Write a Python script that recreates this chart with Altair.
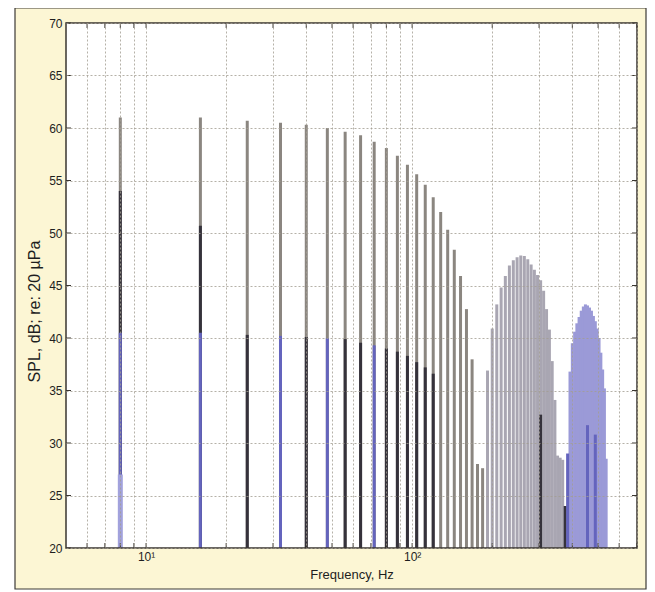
import altair as alt
import pandas as pd

# ---- data (harmonics of 8 Hz) ----
gray_freq = [8, 16, 24, 32, 40, 48, 56, 64, 72, 80, 88, 96, 104, 112, 120, 128,
             136, 144, 152, 160, 168, 176, 184]
gray_level = [61.0, 61.0, 60.7, 60.5, 60.3, 60.0, 59.65, 59.3, 58.7, 58.1, 57.35,
              56.5, 55.6, 54.6, 53.4, 52.0, 50.3, 48.4, 45.9, 42.75, 37.97, 28.0, 27.6]

lobe1_freq = [192, 200, 208, 216, 224, 232, 240, 248, 256, 264, 272, 280, 288, 296,
              304, 312, 320, 328, 336, 344, 352, 360, 368]
lobe1_level = [36.9, 40.9, 43.2, 44.8, 45.9, 46.9, 47.4, 47.7, 47.85, 47.8, 47.5, 47.0,
               46.5, 46.0, 45.5, 44.5, 42.75, 40.8, 37.8, 34.1, 28.8, 28.6, 28.4]

lobe2_freq = [392, 400, 408, 416, 424, 432, 440, 448, 456, 464, 472, 480, 488, 496,
              504, 512, 520, 528, 536]
lobe2_level = [36.8, 39.5, 40.6, 41.4, 42.0, 42.6, 43.0, 43.2, 43.1, 42.9, 42.6, 42.1,
               41.6, 40.9, 40.0, 38.6, 37.0, 35.2, 28.5]

dark_freq = [8, 16, 24, 40, 56, 64, 80, 88, 96, 104, 112, 120, 304, 376]
dark_level = [54.0, 50.7, 40.3, 40.1, 39.9, 39.55, 39.0, 38.7, 38.3, 37.7, 37.2, 36.6,
              32.7, 24.0]

blue_freq = [8, 16, 32, 48, 72, 384, 456, 488]
blue_level = [40.5, 40.5, 40.2, 40.0, 39.3, 29.0, 31.7, 30.8]

low_freq = [8]
low_level = [27.0]

x_tick_values = [6, 7, 8, 9, 10, 20, 30, 40, 50, 60, 70, 80, 90, 100,
                 200, 300, 400, 500, 600, 700]
y_tick_values = [20, 25, 30, 35, 40, 45, 50, 55, 60, 65, 70]

rows = []
for name, fs, ls in [("gray", gray_freq, gray_level), ("lobe1", lobe1_freq, lobe1_level),
                     ("lobe2", lobe2_freq, lobe2_level), ("dark", dark_freq, dark_level),
                     ("blue", blue_freq, blue_level), ("low", low_freq, low_level)]:
    for f, l in zip(fs, ls):
        rows.append({"freq": f, "level": l, "series": name})
df = pd.DataFrame(rows)
one = pd.DataFrame({"a": [0]})
xt = pd.DataFrame({"freq": x_tick_values})
yt = pd.DataFrame({"level": y_tick_values})

W, H = 571, 525
FRAME = "#3a3631"

x_scale = alt.Scale(type="log", domain=[5, 700], nice=False)
y_scale = alt.Scale(domain=[20, 70], nice=False, zero=False)

grid_kw = dict(grid=True, gridDash=[2, 2], gridColor="#a29e92", gridOpacity=0.8,
               gridWidth=1, ticks=False, domain=False, zindex=1,
               labelFont="Liberation Sans", titleFont="Liberation Sans",
               labelColor="#1e1e1e", titleColor="#1e1e1e", titleFontWeight="normal")

x_enc = alt.X("freq:Q", scale=x_scale,
              axis=alt.Axis(values=x_tick_values,
                            labelExpr="datum.value == 10 ? '10¹' : (datum.value == 100 ? '10²' : '')",
                            labelOverlap=False, labelFlush=False, labelPadding=3,
                            labelFontSize=12,
                            title="Frequency, Hz", titlePadding=6, titleFontSize=13,
                            **grid_kw))
y_enc = alt.Y("level:Q", scale=y_scale,
              axis=alt.Axis(values=y_tick_values, labelPadding=4, labelFontSize=12,
                            title="SPL, dB; re: 20 µPa", titleFontSize=16,
                            titleX=-32, titleY=288, titleAngle=270,
                            titleBaseline="middle", titleAlign="center",
                            **grid_kw))

panel = alt.Chart(one).mark_rect(fill="#fcf6d4", stroke="#3c3a36", strokeWidth=1.2).encode(
    x=alt.value(-51), x2=alt.value(580), y=alt.value(-15), y2=alt.value(566))
plotbg = alt.Chart(one).mark_rect(fill="white").encode(
    x=alt.value(0), x2=alt.value(W), y=alt.value(0), y2=alt.value(H))


def layer(series, color, width):
    return alt.Chart(df).transform_filter(alt.datum.series == series).mark_rule(
        color=color, strokeWidth=width, clip=True).encode(
        x=x_enc, y=y_enc, y2=alt.datum(20))


gray = layer("gray", "#8b8680", 3)
lobe1 = layer("lobe1", "#a9a6b2", 3)
lobe2 = layer("lobe2", "#9b9ad7", 3)
dark = layer("dark", "#35323b", 3)
blue = layer("blue", "#6464bd", 3)
low = layer("low", "#a2a2dc", 5)

# inward tick marks on all four sides of the frame
tick_left = alt.Chart(yt).mark_rule(color=FRAME, strokeWidth=1).encode(
    y=y_enc, x=alt.value(0), x2=alt.value(5))
tick_right = alt.Chart(yt).mark_rule(color=FRAME, strokeWidth=1).encode(
    y=y_enc, x=alt.value(W - 5), x2=alt.value(W))
tick_bottom = alt.Chart(xt).mark_rule(color=FRAME, strokeWidth=1).encode(
    x=x_enc, y=alt.value(H - 5), y2=alt.value(H))
tick_top = alt.Chart(xt).mark_rule(color=FRAME, strokeWidth=1).encode(
    x=x_enc, y=alt.value(0), y2=alt.value(5))

frame = alt.Chart(one).mark_rect(fillOpacity=0, stroke=FRAME, strokeWidth=1.5).encode(
    x=alt.value(0), x2=alt.value(W), y=alt.value(0), y2=alt.value(H))

chart = alt.layer(panel, plotbg, gray, lobe1, lobe2, dark, blue, low,
                  tick_left, tick_right, tick_bottom, tick_top, frame).properties(
    width=W, height=H,
    autosize=alt.AutoSizeParams(type="none"),
    padding={"left": 58, "top": 15, "right": 10, "bottom": 44},
    background="white",
).configure_view(strokeWidth=0)

chart.save("out.html", embed_options={"renderer": "svg", "actions": False})
